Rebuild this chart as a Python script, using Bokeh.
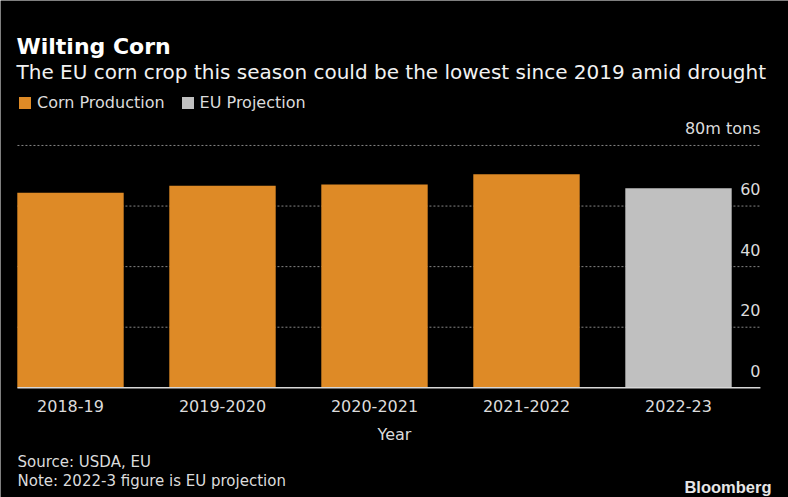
from bokeh.plotting import figure
from bokeh.models import (ColumnDataSource, Range1d, LabelSet, Label, Legend, LegendItem)
from bokeh.core.properties import value
from bokeh.embed import file_html
from bokeh.resources import INLINE

# ---- data ----
years = ["2018-19", "2019-2020", "2020-2021", "2021-2022", "2022-23"]
production = [64.4, 66.7, 67.1, 70.5, 65.9]
series = ["Corn Production", "Corn Production", "Corn Production", "Corn Production", "EU Projection"]
y_ticks = [0, 20, 40, 60, 80]
y_tick_labels = ["0", "20", "40", "60", "80m tons"]

title_text = "Wilting Corn"
subtitle_text = "The EU corn crop this season could be the lowest since 2019 amid drought"
x_label = "Year"
source_text = "Source: USDA, EU"
note_text = "Note: 2022-3 figure is EU projection"
brand_text = "Bloomberg"

ORANGE = "#DE8A26"
GRAY = "#C0C0C0"
FONT = "DejaVu Sans"
TXT = "#DCDCDC"
W, H = 788, 497

idx = list(range(len(years)))

# the whole canvas is the plotting frame, so no text is clipped
p = figure(width=W, height=H,
           x_range=Range1d(idx[0] - 0.4605, idx[0] + 4.7237),
           y_range=Range1d(-36.22, 127.86),
           output_backend="svg", toolbar_location=None,
           x_axis_location=None, y_axis_location=None,
           min_border=0, min_border_left=0, min_border_right=0,
           min_border_top=0, min_border_bottom=0,
           background_fill_color="black", border_fill_color="black", outline_line_color=None)
p.grid.visible = False

# dotted gridlines (above 0) and solid baseline, spanning the plot area
gx0, gx1 = idx[0] - 0.349, idx[-1] + 0.539
grid_src = ColumnDataSource(dict(x0=[gx0] * (len(y_ticks) - 1), x1=[gx1] * (len(y_ticks) - 1),
                                 y=y_ticks[1:]))
p.segment(x0="x0", x1="x1", y0="y", y1="y", source=grid_src,
          line_color="#858585", line_dash="2 2", line_width=1)

def subset(name):
    xs = [i for i, s in zip(idx, series) if s == name]
    ys = [v for v, s in zip(production, series) if s == name]
    return ColumnDataSource(dict(x=xs, top=ys))

r1 = p.vbar(x="x", top="top", width=0.7, bottom=0, source=subset("Corn Production"),
            fill_color=ORANGE, line_color=None)
r2 = p.vbar(x="x", top="top", width=0.7, bottom=0, source=subset("EU Projection"),
            fill_color=GRAY, line_color=None)

p.segment(x0=[gx0], x1=[gx1], y0=[y_ticks[0]], y1=[y_ticks[0]],
          line_color="#D8D8D8", line_width=1.5)

# x tick labels
xsrc = ColumnDataSource(dict(x=idx, y=[0] * len(idx), text=years))
p.add_layout(LabelSet(x="x", y="y", text="text", source=xsrc, text_align="center",
                      text_baseline="alphabetic", y_offset=-24,
                      text_font=value(FONT), text_font_size=value("16px"), text_color=TXT))

# y tick labels above gridlines, right aligned
ysrc = ColumnDataSource(dict(y=y_ticks, text=y_tick_labels))
p.add_layout(LabelSet(x=760, y="y", text="text", source=ysrc, x_units="screen",
                      text_align="right", text_baseline="alphabetic", y_offset=11,
                      text_font=value(FONT), text_font_size=value("16px"), text_color=TXT))

legend = Legend(items=[LegendItem(label="Corn Production", renderers=[r1]),
                       LegendItem(label="EU Projection", renderers=[r2])],
                location=(17, 385), orientation="horizontal", glyph_width=15, glyph_height=15,
                label_standoff=5, spacing=15, padding=0, margin=0,
                background_fill_alpha=0, border_line_color=None,
                label_text_font=FONT, label_text_font_size="16px", label_text_color=TXT,
                label_height=15)
p.add_layout(legend)

def lab(text, x, y, size, color=TXT, style="normal", align="left", font=FONT):
    p.add_layout(Label(x=x, y=H - y, x_units="screen", y_units="screen", text=text,
                       text_font=font, text_font_size=size, text_color=color,
                       text_font_style=style, text_align=align, text_baseline="alphabetic"))

lab(title_text, 16, 46, "22px", "#FFFFFF", "bold")
lab(subtitle_text, 16, 71, "20px", "#F2F2F2")
lab(x_label, 394, 434, "16px", TXT, align="center")
lab(source_text, 17, 461, "15px", TXT)
lab(note_text, 17, 480, "15px", TXT)
lab(brand_text, 771, 486, "16.5px", "#E6E6E6", "bold", "right", "Liberation Sans")

open("out.html", "w").write(file_html(p, INLINE))
